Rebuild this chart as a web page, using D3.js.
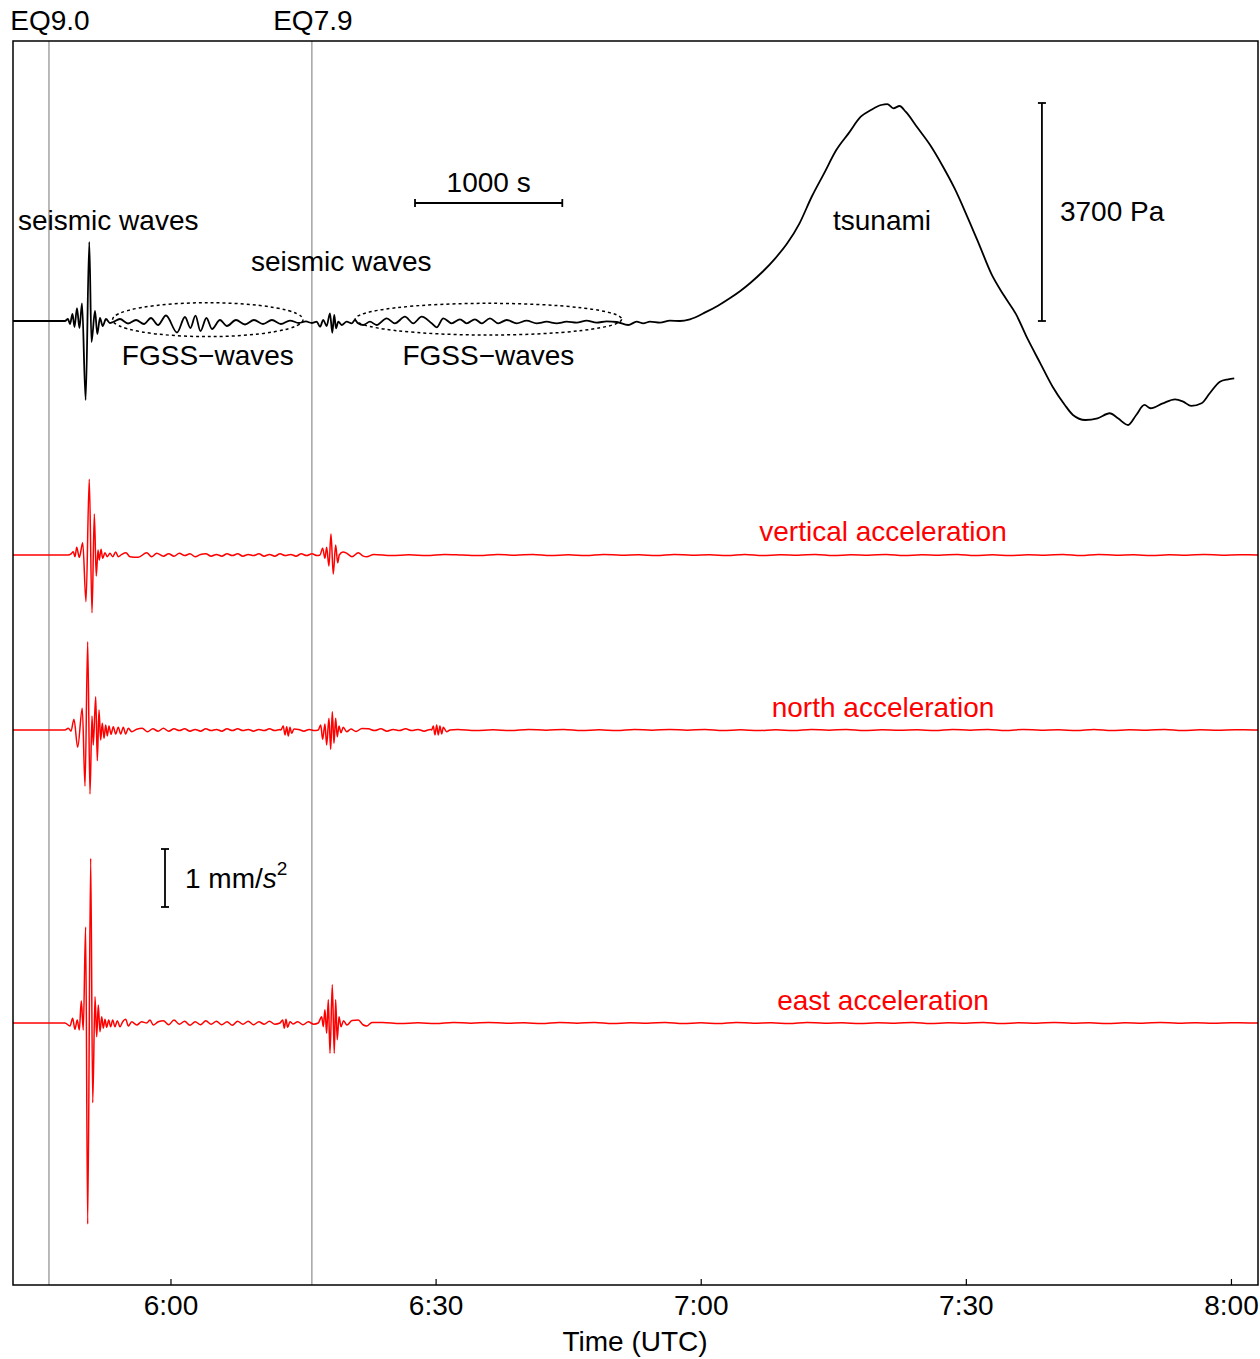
<!DOCTYPE html>
<html><head><meta charset="utf-8">
<script src="https://cdn.jsdelivr.net/npm/d3@7"></script>
<style>
body{margin:0;background:#fff;}
text{font-family:"Liberation Sans",Arial,sans-serif;}
</style></head><body>
<svg id="chart" width="1260" height="1359"></svg>
<script>
// ---------------- DATA (time in minutes after 05:00 UTC) ----------------
const timeDomain = [42.18, 183.06];
const tickTimes = [60, 90, 120, 150, 180];
const tickLabels = ["6:00", "6:30", "7:00", "7:30", "8:00"];
const eqEvents = [{label: "EQ9.0", t: 46.25}, {label: "EQ7.9", t: 76.0}];

// pressure (Pa) : [time, value]
const pressureSeismic1 = [[42.18,0],[48.06,0],[48.40,34],[48.63,-51],[48.91,119],[49.14,-102],[49.42,220],[49.70,-120],[49.99,300],[50.40,-1341],[50.81,1341],[51.06,-356],[51.46,170],[51.72,-221],[52.02,51],[52.33,-85],[52.70,34],[53.15,-34]];
const pressureFGSS1 = [[53.49,-17],[54.28,34],[55.19,-42],[56.10,17],[57.00,-51],[57.79,51],[58.59,-68],[59.49,93],[60.74,-195],[61.64,68],[62.26,-119],[62.83,90],[63.39,-170],[64.07,51],[64.70,-136],[65.60,17],[66.39,-85],[67.41,17],[68.43,-59],[69.45,17],[70.47,-51],[71.48,17],[72.50,-51],[73.52,8],[74.54,-34],[75.33,-8]];
const pressureSeismic2 = [[75.98,-34],[76.54,-12],[76.92,-97],[77.29,17],[77.67,-85],[78.05,131],[78.31,-199],[78.53,102],[78.73,-124],[78.99,-12],[79.37,-68],[79.94,-12],[80.50,-39],[80.88,17],[81.22,-39]];
const pressureFGSS2 = [[81.82,-68],[82.57,-12],[83.33,-68],[84.46,46],[85.40,-39],[86.53,73],[87.47,-39],[88.42,73],[89.55,-39],[90.12,-107],[90.87,46],[91.82,-39],[92.76,29],[93.52,-39],[94.45,29],[95.21,-39],[96.15,46],[97.09,-39],[98.04,17],[99.17,-39],[100.30,5],[101.44,-39],[102.57,-12],[103.70,-39],[104.83,-12],[105.96,-29],[107.09,5],[108.22,-29],[109.36,-5],[110.49,-17],[111.80,-68],[112.75,-12],[113.50,-39],[114.26,-12],[115.39,-29],[116.52,5],[117.65,0]];
const pressureTsunami = [[118.78,29],[120.56,150],[121.95,260],[123.33,390],[124.48,510],[125.64,650],[127.03,840],[128.41,1060],[129.79,1319],[131.18,1658],[132.56,2109],[133.96,2506],[135.34,2902],[136.73,3185],[138.11,3467],[139.26,3581],[140.42,3666],[141.11,3682],[141.81,3610],[142.50,3649],[143.19,3552],[144.58,3270],[145.96,2987],[147.34,2640],[148.73,2250],[150.11,1790],[151.50,1300],[152.89,800],[154.28,440],[155.66,120],[157.05,-322],[158.43,-718],[159.82,-1115],[161.20,-1425],[162.12,-1595],[163.51,-1680],[164.90,-1651],[166.28,-1566],[167.21,-1651],[168.36,-1765],[169.28,-1595],[170.21,-1425],[170.90,-1481],[172.29,-1397],[173.67,-1329],[174.60,-1369],[175.51,-1442],[176.67,-1397],[177.60,-1227],[178.75,-1030],[179.68,-989],[180.37,-972]];

// vertical acceleration (mm/s^2)
const vertMain = [[42.18,0],[48.40,0],[48.75,0.02],[49.00,0.057],[49.20,-0.03],[49.39,0.133],[49.68,-0.04],[50.07,0.212],[50.44,-0.805],[50.81,1.305],[51.12,-0.995],[51.38,0.707],[51.60,-0.362],[51.80,0.086],[51.94,-0.086],[52.14,0.098],[52.33,-0.057],[52.59,0.04],[52.85,-0.03],[53.15,0.03],[53.46,-0.03],[53.80,0.052],[54.09,-0.03],[54.48,0.01],[54.96,0.04],[55.42,-0.03],[56.36,-0.04],[57.31,0.04],[57.87,-0.03],[58.44,0.03],[59.19,-0.02]];
const vertEQ79 = [[76.92,0],[77.22,0.116],[77.48,-0.057],[77.67,0.133],[77.93,-0.19],[78.16,0.362],[78.42,-0.328],[78.69,0.172],[78.92,-0.133],[79.10,0],[79.52,0.05],[79.94,0.03],[80.54,-0.03],[81.25,0.04],[81.82,-0.02],[82.20,-0.03]];
const vertNoise1 = {start: 59.8, step: 0.6, values: [0.02,-0.02,0.03,-0.01,0.02,-0.03,0.01,0.02,-0.02,0.01,-0.02,0.02,-0.01,0.02,-0.02,0.01,-0.01,0.02,-0.02,0.01,-0.02,0.02,-0.01,0.01,-0.02,0.02,-0.01,0.02,-0.01]};
const vertNoise2 = {start: 83.0, step: 2.0, values: [0.01,-0.01,0.005,-0.01,0.01,0,-0.01,0.01,-0.005,0.01,-0.01,0.005,-0.01,0.01,-0.005,0.005,-0.01,0.01,-0.005,0.005,-0.01,0.01,-0.01,0.005,-0.005,0.01,-0.01,0.005,-0.005,0.01,-0.01,0.005,-0.005,0.01,-0.01,0.005,-0.01,0.005,-0.005,0.01,-0.01,0.01,-0.005,0.005,-0.01,0.005,-0.005,0.01,-0.005,0.005,0]};

// north acceleration (mm/s^2)
const northMain = [[42.18,0],[48.06,0],[48.44,0.03],[48.74,-0.02],[49.08,0.184],[49.50,-0.298],[50.02,0.374],[50.33,-0.966],[50.63,1.522],[50.89,-1.103],[51.12,0.241],[51.26,-0.259],[51.54,0.574],[51.72,-0.529],[51.91,0.345],[52.10,-0.172],[52.28,0.116],[52.48,-0.143],[52.67,0.086],[52.85,-0.103],[53.04,0.069],[53.27,-0.074],[53.53,0.057],[53.80,-0.069],[54.09,0.047],[54.37,-0.069],[54.66,0.047],[54.93,-0.069],[55.23,0.03],[55.61,-0.03],[56.18,0.012]];
const northSmall1 = [[72.50,0],[72.76,0.069],[72.96,-0.086],[73.15,0.057],[73.33,-0.103],[73.52,0.047],[73.71,-0.057],[73.97,0.017]];
const northEQ79 = [[76.72,0],[77.00,0.086],[77.22,-0.160],[77.48,0.103],[77.67,-0.259],[77.93,0.202],[78.13,-0.333],[78.31,0.316],[78.50,-0.229],[78.69,0.202],[78.87,-0.116],[79.07,0.069],[79.29,-0.047],[79.55,0.047],[79.94,-0.03],[80.42,0.017],[80.99,-0.026],[81.67,0.026]];
const northSmall2 = [[89.55,0],[89.74,0.069],[89.93,-0.086],[90.12,0.086],[90.30,-0.086],[90.49,0.069],[90.69,-0.069],[90.87,0.047],[91.25,-0.03],[91.63,0]];
const northNoise1 = {start: 56.8, step: 0.6, values: [0.03,-0.03,0.02,-0.02,0.03,-0.02,0.02,-0.01,0.02,-0.02,0.01,-0.02,0.02,-0.01,0.01,-0.02,0.02,-0.01,0.02,-0.01,0.01,-0.02,0.01,-0.01,0.02,-0.01,0.01]};
const northNoise2 = {start: 74.5, step: 0.6, values: [0.01,-0.02,0.01,-0.01]};
const northNoise3 = {start: 82.4, step: 0.7, values: [0.02,-0.01,0.02,-0.02,0.01,-0.01,0.02,-0.01,0.01,-0.02,0.01]};
const northNoise4 = {start: 92.5, step: 2.0, values: [0.01,-0.01,0.005,-0.01,0.01,-0.005,0.01,-0.01,0.005,-0.01,0.01,-0.005,0.01,-0.005,0.01,-0.01,0.005,-0.01,0.005,-0.01,0.01,-0.005,0.01,-0.01,0.005,-0.005,0.005,-0.01,0.01,-0.005,0.01,-0.01,0.01,-0.005,0.005,-0.01,0.01,-0.01,0.005,-0.005,0.01,-0.01,0.005,-0.005,0.005,0]};

// east acceleration (mm/s^2)
const eastMain = [[42.18,0],[48.06,0],[48.63,-0.052],[48.93,0.081],[49.19,-0.109],[49.45,0.052],[49.68,-0.121],[49.91,0.384],[50.13,-0.121],[50.40,1.655],[50.63,-3.466],[50.97,2.84],[51.20,-1.374],[51.46,0.453],[51.65,-0.236],[51.83,0.310],[52.02,-0.150],[52.22,0.109],[52.40,-0.09],[52.59,0.064],[52.78,-0.074],[53.01,0.052],[53.23,-0.064],[53.46,0.052],[53.72,-0.064],[53.98,0.04],[54.29,-0.064],[54.59,0.022],[54.93,0.064],[55.23,-0.052],[55.61,0.022],[56.18,-0.034],[56.74,0.022],[57.31,0],[57.68,0.052],[58.05,-0.034],[58.62,0.022]];
const eastSmall1 = [[72.39,0],[72.70,0.052],[72.88,-0.091],[73.07,0.064],[73.26,-0.074],[73.52,0.022],[73.86,-0.017]];
const eastEQ79 = [[76.72,0],[77.11,0.109],[77.29,-0.064],[77.48,0.229],[77.67,-0.178],[77.86,0.402],[78.05,-0.522],[78.31,0.66],[78.53,-0.522],[78.69,0.402],[78.87,-0.287],[79.07,0.109],[79.29,-0.064],[79.58,0.04],[79.97,-0.034],[80.54,0.043],[81.25,0.052],[81.78,-0.03],[82.20,-0.05],[82.80,0.01]];
const eastNoise1 = {start: 59.2, step: 0.6, values: [0.04,-0.03,0.05,-0.02,0.03,-0.04,0.02,-0.03,0.04,-0.02,0.03,-0.03,0.02,-0.04,0.03,-0.02,0.03,-0.03,0.02,-0.02,0.03,-0.02]};
const eastNoise2 = {start: 74.4, step: 0.6, values: [0.02,-0.03,0.02,-0.02]};
const eastNoise3 = {start: 84.0, step: 2.0, values: [0.01,-0.01,0.005,-0.01,0.01,-0.005,0.01,-0.005,0.005,-0.01,0.01,-0.005,0.01,-0.01,0.005,-0.005,0.01,-0.01,0.005,-0.01,0.01,-0.005,0.005,-0.01,0.01,-0.005,0.005,-0.01,0.005,-0.005,0.01,-0.01,0.005,-0.005,0.01,-0.01,0.005,-0.005,0.01,-0.005,0.005,-0.01,0.005,-0.005,0.01,-0.005,0.005,-0.005,0.005,0]};
const traceEnd = 183.06;

// annotations (data units)
const fgssEllipses = [{t0: 53.45, t1: 75.0, p0: -265, p1: 310, label: "FGSS\u2212waves"}, {t0: 80.9, t1: 111.05, p0: -238, p1: 300, label: "FGSS\u2212waves"}];
const timeBar = {t0: 87.67, seconds: 1000, label: "1000 s"};
const pressureBar = {t: 158.61, p0: 0, p1: 3700, label: "3700 Pa"};
const accBar = {t: 59.38, a0: 2.0, a1: 3.0};

// ---------------- DRAWING ----------------
const svg = d3.select("#chart");
const frame = {left: 13, right: 1258, top: 41, bottom: 1285};
const FONT = "'Liberation Sans', Arial, sans-serif";

const x = d3.scaleLinear().domain(timeDomain).range([frame.left, frame.right]);
const yP = d3.scaleLinear().domain([0, 3700]).range([321, 103]);
const yV = d3.scaleLinear().domain([0, 1]).range([555, 497]);
const yN = d3.scaleLinear().domain([0, 1]).range([730, 672]);
const yE = d3.scaleLinear().domain([0, 1]).range([1023, 965]);

const expand = seg => seg.values.map((v, i) => [seg.start + i * seg.step, v]);
const merge = (...segs) => segs.flat().sort((a, b) => a[0] - b[0]);

const pressure = merge(pressureSeismic1, pressureFGSS1, pressureSeismic2, pressureFGSS2, pressureTsunami);
const vert = merge(vertMain, expand(vertNoise1), vertEQ79, expand(vertNoise2), [[traceEnd, 0]]);
const north = merge(northMain, expand(northNoise1), northSmall1, expand(northNoise2), northEQ79, expand(northNoise3), northSmall2, expand(northNoise4), [[traceEnd, 0]]);
const east = merge(eastMain, expand(eastNoise1), eastSmall1, expand(eastNoise2), eastEQ79, expand(eastNoise3), [[traceEnd, 0]]);

svg.append("defs").append("clipPath").attr("id", "clip")
  .append("rect").attr("x", frame.left).attr("y", frame.top)
  .attr("width", frame.right - frame.left).attr("height", frame.bottom - frame.top);

// EQ lines and labels
svg.selectAll(".eq").data(eqEvents).join("line")
  .attr("x1", d => x(d.t)).attr("x2", d => x(d.t))
  .attr("y1", frame.top).attr("y2", frame.bottom)
  .attr("stroke", "#8c8c8c").attr("stroke-width", 1.2);
svg.selectAll(".eqlab").data(eqEvents).join("text")
  .attr("x", d => x(d.t) + 1).attr("y", 30)
  .attr("text-anchor", "middle").attr("font-size", 28).attr("font-family", FONT)
  .text(d => d.label);

// traces
const g = svg.append("g").attr("clip-path", "url(#clip)");
const mkLine = ys => d3.line().x(d => x(d[0])).y(d => ys(d[1])).curve(d3.curveMonotoneX);
g.append("path").attr("d", mkLine(yP)(pressure)).attr("fill", "none").attr("stroke", "#000").attr("stroke-width", 1.8).attr("stroke-linejoin", "round");
[[vert, yV], [north, yN], [east, yE]].forEach(([data, ys]) => {
  g.append("path").attr("d", mkLine(ys)(data)).attr("fill", "none").attr("stroke", "#ff0000").attr("stroke-width", 1.5).attr("stroke-linejoin", "round");
});

// dotted ellipses
svg.selectAll(".ell").data(fgssEllipses).join("ellipse")
  .attr("cx", d => (x(d.t0) + x(d.t1)) / 2)
  .attr("cy", d => (yP(d.p0) + yP(d.p1)) / 2)
  .attr("rx", d => (x(d.t1) - x(d.t0)) / 2)
  .attr("ry", d => (yP(d.p0) - yP(d.p1)) / 2)
  .attr("fill", "none").attr("stroke", "#000").attr("stroke-width", 1.5).attr("stroke-dasharray", "3,3");

// frame
svg.append("rect").attr("x", frame.left).attr("y", frame.top)
  .attr("width", frame.right - frame.left).attr("height", frame.bottom - frame.top)
  .attr("fill", "none").attr("stroke", "#000").attr("stroke-width", 1.5);

// axis
const axis = d3.axisBottom(x).tickValues(tickTimes).tickFormat((d, i) => tickLabels[i])
  .tickSizeInner(-6).tickSizeOuter(0).tickPadding(10);
const gAx = svg.append("g").attr("transform", `translate(0,${frame.bottom})`).call(axis);
gAx.select(".domain").remove();
gAx.attr("font-size", 28).attr("font-family", FONT);
gAx.selectAll("line").attr("stroke", "#000").attr("stroke-width", 1.2);
gAx.selectAll("text").attr("fill", "#000");
svg.append("text").attr("x", 635).attr("y", 1351)
  .attr("text-anchor", "middle").attr("font-size", 28).attr("font-family", FONT).text("Time (UTC)");

// scale bars
function vBar(xp, y0, y1) {
  const b = svg.append("g").attr("stroke", "#000").attr("stroke-width", 1.8);
  b.append("line").attr("x1", xp).attr("x2", xp).attr("y1", y0).attr("y2", y1);
  b.append("line").attr("x1", xp - 4).attr("x2", xp + 4).attr("y1", y0).attr("y2", y0);
  b.append("line").attr("x1", xp - 4).attr("x2", xp + 4).attr("y1", y1).attr("y2", y1);
}
{
  const x0 = x(timeBar.t0), x1 = x(timeBar.t0 + timeBar.seconds / 60), yb = 203;
  const b = svg.append("g").attr("stroke", "#000").attr("stroke-width", 1.8);
  b.append("line").attr("x1", x0).attr("x2", x1).attr("y1", yb).attr("y2", yb);
  b.append("line").attr("x1", x0).attr("x2", x0).attr("y1", yb - 4).attr("y2", yb + 4);
  b.append("line").attr("x1", x1).attr("x2", x1).attr("y1", yb - 4).attr("y2", yb + 4);
  svg.append("text").attr("x", (x0 + x1) / 2).attr("y", 192).attr("text-anchor", "middle")
    .attr("font-size", 28).attr("font-family", FONT).text(timeBar.label);
}
vBar(x(pressureBar.t), yP(pressureBar.p0), yP(pressureBar.p1));
svg.append("text").attr("x", x(pressureBar.t) + 18).attr("y", 221)
  .attr("font-size", 28).attr("font-family", FONT).text(pressureBar.label);
vBar(x(accBar.t), yE(accBar.a0), yE(accBar.a1));
{
  const t = svg.append("text").attr("x", x(accBar.t) + 20).attr("y", 888)
    .attr("font-size", 28).attr("font-family", FONT);
  t.append("tspan").text("1 mm/");
  t.append("tspan").attr("font-style", "italic").text("s");
  t.append("tspan").attr("font-size", 19).attr("dy", -13).text("2");
}

// black text annotations
const blackLabels = [
  {text: "seismic waves", x: 18, y: 230},
  {text: "seismic waves", x: 251, y: 271},
  {text: "tsunami", x: 833, y: 230}
];
svg.selectAll(".blab").data(blackLabels).join("text")
  .attr("x", d => d.x).attr("y", d => d.y).attr("font-size", 28).attr("font-family", FONT).text(d => d.text);
svg.selectAll(".flab").data(fgssEllipses).join("text")
  .attr("x", d => (x(d.t0) + x(d.t1)) / 2).attr("y", 365).attr("text-anchor", "middle")
  .attr("font-size", 28).attr("font-family", FONT).text(d => d.label);

// red labels
const redLabels = [
  {text: "vertical acceleration", y: 541},
  {text: "north acceleration", y: 717},
  {text: "east acceleration", y: 1010}
];
svg.selectAll(".rlab").data(redLabels).join("text")
  .attr("x", 883).attr("y", d => d.y).attr("text-anchor", "middle")
  .attr("font-size", 28).attr("font-family", FONT).attr("fill", "#ff0000").text(d => d.text);
</script>
</body></html>
